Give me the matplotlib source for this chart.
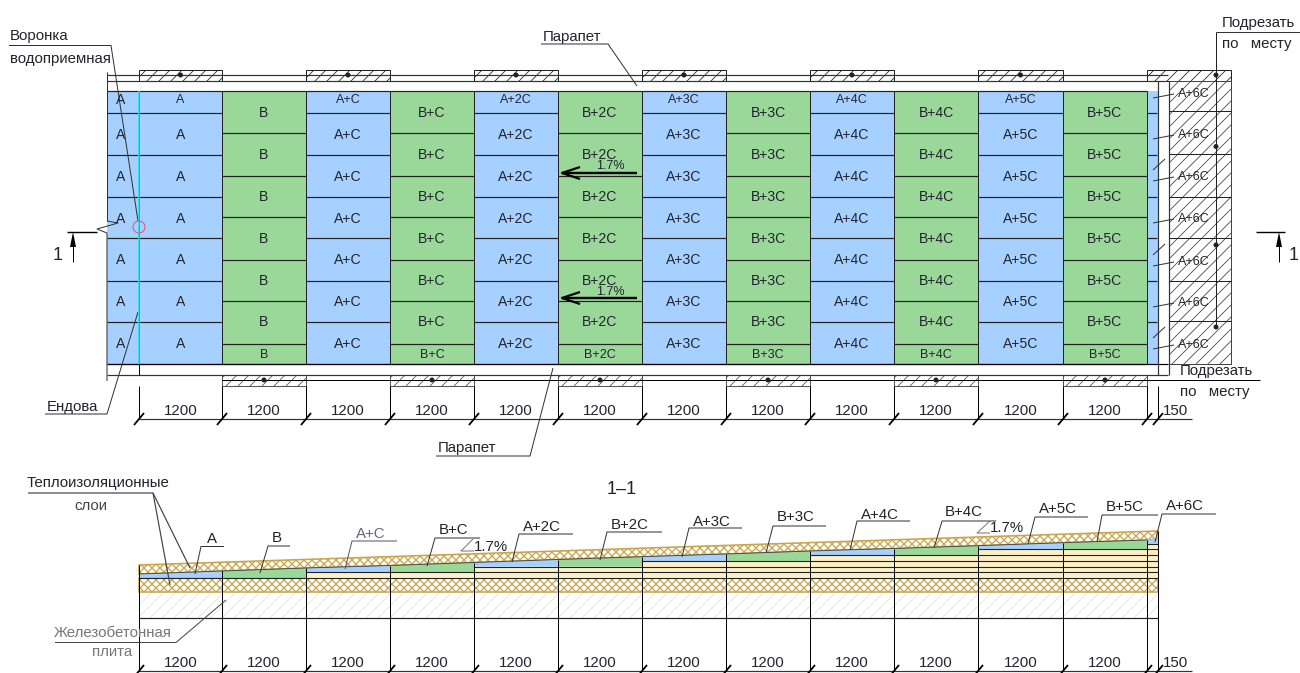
from matplotlib import pyplot as plt
from matplotlib.patches import Polygon, Rectangle, Circle

# everything on this drawing in pixels
col_edges = [139, 222, 306, 390, 474, 558, 642, 726, 810, 894, 978, 1063, 1147]
col_labels = ["A", "B", "A+C", "B+C", "A+2C", "B+2C", "A+3C", "B+3C", "A+4C", "B+4C", "A+5C", "B+5C"]
odd_breaks = [91, 113, 154.5, 197, 238, 280.5, 322, 364]
even_breaks = [91, 133, 175.5, 217, 259.5, 301, 343.5, 364]
odd_text_y = [99, 134, 176, 218, 259, 301, 343]
even_text_y = [112, 154, 196, 238, 280, 321, 354]
side_label_y = [93, 134, 176, 218, 261, 302, 344]
side_breaks = [111, 154, 197, 238, 280.5, 321]
cut_dots_y = [75, 146.5, 245, 327]

wedge_tops = [574, 571, 568, 565.5, 562.5, 559.5, 556.7, 554, 551, 548.5, 545.7, 542.7, 540]
section_floors = [577.5, 577.5, 572.3, 572.3, 566.7, 566.7, 561, 561, 555, 555, 549.3, 549.3]
layer_lines = [572.3, 566.7, 561, 555, 549.3, 544]
layer_starts = [306, 474, 642, 810, 978, 1147]

tag_text_xy = [(212, 538), (277, 537), (371, 533), (453, 529), (542, 526), (630, 524), (712, 521),
               (796, 516), (880, 514), (964, 511), (1058, 508), (1125, 506), (1185, 505)]
tag_lines = [(224, 201, 546.5, 195, 574), (290, 268, 546, 260, 573), (397, 352, 541, 345, 569),
             (480, 435, 538, 427, 566), (573, 519, 534, 512, 562), (662, 607, 532, 600, 560),
             (742, 689, 528, 682, 557), (826, 773, 526, 766, 553), (910, 857, 521, 850, 550),
             (996, 942, 521, 934, 548), (1088, 1035, 517, 1028, 544), (1158, 1102, 515, 1097, 542),
             (1216, 1162, 514, 1155, 542)]
tag_labels = col_labels + ["A+6C"]

BLUE = "#a6d0ff"
GREEN = "#99d898"
CREAM = "#fdf0c8"
GOLD = "#c8a54a"
INK = "#23232e"
DARK = "#333333"

plt.rcParams["font.family"] = ["Liberation Sans", "DejaVu Sans"]
plt.rcParams["hatch.linewidth"] = 0.8

fig = plt.figure(figsize=(1300 / 72, 673 / 72), dpi=72)
ax = fig.add_axes([0, 0, 1, 1])
ax.set_xlim(0, 1300)
ax.set_ylim(673, 0)
ax.axis("off")


def line(xs, ys, color=DARK, lw=1.0, z=3):
    ax.plot(xs, ys, color=color, lw=lw, zorder=z, solid_capstyle="butt")


def label(x, y, s, size=13, color=INK, ha="center"):
    ax.text(x, y + 0.8, s, fontsize=size, color=color, ha=ha, va="center", zorder=5)


def dimension(y, top, text_y):
    line([139, 1192], [y, y], lw=1.2)
    for x in col_edges + [1158]:
        line([x - 5, x + 5], [y + 6, y - 6], color="black", lw=1.8)
        line([x, x], [top, y], color="black")
    for left, right in zip(col_edges[:-1], col_edges[1:]):
        label((left + right) / 2, text_y, "1200", size=15)
    label(1176, text_y, "150", size=15)


# plan: insulation boards
ax.add_patch(Rectangle((107, 91), 115, 273, fc=BLUE, ec="none", zorder=1))
ax.add_patch(Rectangle((1147, 91), 10.5, 273, fc=BLUE, ec="none", zorder=1))
for i, name in enumerate(col_labels):
    left, right = col_edges[i], col_edges[i + 1]
    breaks = odd_breaks if i % 2 == 0 else even_breaks
    text_y = odd_text_y if i % 2 == 0 else even_text_y
    ax.add_patch(Rectangle((left, 91), right - left, 273, fc=BLUE if i % 2 == 0 else GREEN, ec="none", zorder=1))
    line([left, left], [91, 364], color="#222222")
    x0 = 107 if i == 0 else left
    for y in breaks:
        line([x0, right], [y, y], color="#222222", lw=1.2)
    for row, y in enumerate(text_y):
        short = (i % 2 == 0 and row == 0) or (i % 2 == 1 and row == 6)
        label((left + right) / 2, y, name, size=12.5 if short else 14)
        if i == 0:
            label(121, y, "A", size=14)
line([1147, 1147], [91, 364], color="#222222")
for y in odd_breaks[1:-1]:
    line([1147, 1157], [y, y], color="#222222", lw=1.2)
line([139, 139], [91, 364], color="#10e8f0", lw=1.5, z=4)

# plan: parapet and fixing strips
line([107, 1168], [75, 75], lw=1.2)
line([107, 1168], [81, 81], lw=1.2)
line([107, 1168], [364, 364], color="black", lw=1.2)
line([107, 1168], [375, 375], lw=1.2)
line([107, 107], [72, 221])
line([107, 118, 97, 107, 107], [221, 223, 229, 233, 381])
line([1157.5, 1157.5], [81, 375], lw=1.2)
line([1168.5, 1168.5], [81, 375], lw=1.2)
for i in range(0, 12, 2):
    left, right = col_edges[i], col_edges[i + 1]
    ax.add_patch(Rectangle((left, 70), right - left, 11, fc="white", ec="#222222", lw=1, hatch="//", zorder=2))
    ax.add_patch(Circle(((left + right) / 2, 75), 2.5, fc="#222222", ec="none", zorder=4))
for i in range(1, 12, 2):
    left, right = col_edges[i], col_edges[i + 1]
    ax.add_patch(Rectangle((left, 375), right - left, 11, fc="white", ec="#555555", lw=1, hatch="//", zorder=2))
    ax.add_patch(Circle(((left + right) / 2, 380), 2.5, fc="#222222", ec="none", zorder=4))
line([222, 1260], [380, 380], color="black", z=3)
ax.add_patch(Rectangle((1147, 70), 84, 11, fc="white", ec="#222222", lw=1, hatch="//", zorder=2))
ax.add_patch(Rectangle((1168.5, 81), 62.5, 283, fc="white", ec="#444444", lw=1, hatch="//", zorder=2))
for y in side_breaks:
    line([1168.5, 1231], [y, y], color="#222222")
line([1216, 1216], [32, 327], color="#222222")
for y in cut_dots_y:
    ax.add_patch(Circle((1216, y), 2.5, fc="#222222", ec="none", zorder=4))
for y in side_label_y:
    line([1153, 1174], [y + 5, y + 1])
    label(1194, y, "A+6C", size=12.5)
for y in [170, 255, 338]:
    line([1153, 1165], [y, y - 11])

# plan: funnel, slope arrows, section marks
ax.add_patch(Circle((139, 227), 6, fc="none", ec="#e8506e", lw=1, zorder=4))
for y, text_y in [(173, 165), (298, 291)]:
    line([562, 637], [y, y], color="black", lw=2.4, z=4)
    line([580, 562, 580], [y - 6, y, y + 6], color="black", lw=2.2, z=4)
    label(610, text_y, "1.7%", size=12.5)
line([67, 97], [232, 232], color="black", lw=1.4)
line([73, 73], [262, 240], color="black")
ax.add_patch(Polygon([(73, 232), (70, 247), (76, 247)], fc="black", ec="none", zorder=4))
label(58, 255, "1", size=18)
line([1256, 1285], [232, 232], color="black", lw=1.4)
line([1279, 1279], [262, 240], color="black")
ax.add_patch(Polygon([(1279, 232), (1276, 247), (1282, 247)], fc="black", ec="none", zorder=4))
label(1294, 255, "1", size=18)

# plan: callouts
label(10, 35, "Воронка", size=15, ha="left")
label(10, 58, "водоприемная", size=15, ha="left")
line([9, 111, 138], [45.5, 45.5, 221])
label(543, 36, "Парапет", size=15, ha="left")
line([541, 608, 637], [44, 44, 86])
label(438, 447, "Парапет", size=15, ha="left")
line([436, 530, 553], [456, 456, 368])
label(47, 406, "Ендова", size=15, ha="left")
line([45, 107, 138], [414, 414, 312])
label(1222, 22, "Подрезать", size=15, ha="left")
line([1216, 1300], [32, 32])
label(1222, 43, "по   месту", size=15, ha="left")
label(1180, 370, "Подрезать", size=15, ha="left")
label(1180, 391, "по   месту", size=15, ha="left")
dimension(419, 386, 410)
line([139, 139], [364, 375], color="black")

# section 1-1
label(622, 489, "1–1", size=18)
ax.add_patch(Rectangle((139, 592), 1019, 26, fc="white", ec="#e2e2e2", hatch="//", zorder=1, lw=0))
plt.rcParams["hatch.linewidth"] = 1.3
ax.add_patch(Rectangle((139, 578), 1019, 14, fc="white", ec=GOLD, hatch="xxx", lw=1.6, zorder=1))
line([139, 1158], [618, 618], color="#222222", lw=1.2)
ax.add_patch(Polygon(list(zip(col_edges, wedge_tops)) + [(1158, 539), (1158, 531), (139, 565)],
                     fc="white", ec=GOLD, hatch="xxx", lw=1.6, zorder=1))
for i in range(12):
    left, right = col_edges[i], col_edges[i + 1]
    top = wedge_tops[i:i + 2]
    floor = section_floors[i]
    ax.add_patch(Polygon([(left, floor), (left, top[0]), (right, top[1]), (right, floor)],
                         fc=BLUE if i % 2 == 0 else GREEN, ec="none", zorder=2))
    if floor < 577:
        ax.add_patch(Rectangle((left, floor), right - left, 578 - floor, fc=CREAM, ec="none", zorder=2))
ax.add_patch(Polygon([(1147, 544), (1147, 540), (1158, 539), (1158, 544)], fc=BLUE, ec="none", zorder=2))
ax.add_patch(Rectangle((1147, 544), 11, 34, fc=CREAM, ec="none", zorder=2))
for y, start in zip(layer_lines, layer_starts):
    line([start, 1158], [y, y], color="#222222", lw=1.1)
line([139, 1158], [578, 578], color="#222222", lw=1.1)
line(col_edges, wedge_tops, color="#444444", lw=0.9)
dimension(671, 571, 662)
line([139, 139], [565, 671], color="black")
line([1158, 1158], [531, 671], color="black")
for x, top in zip(col_edges[1:], wedge_tops[1:]):
    line([x, x], [top, 671], color="black")

for s, (x, y), (end, start, h, tip_x, tip_y) in zip(tag_labels, tag_text_xy, tag_lines):
    grey = s == "A+C"
    label(x, y, s, size=15, color="#666677" if grey else INK)
    line([end, start, tip_x], [h, h, tip_y], color="#555566" if grey else DARK)

# slope marks
line([473, 461, 474], [539, 551, 551], color="#777777")
label(491, 546, "1.7%", size=15)
line([990, 977, 990], [521, 533, 533], color="#777777")
label(1007, 527, "1.7%", size=15)

# section callouts
label(27, 482, "Теплоизоляционные", size=15, ha="left")
label(91, 505, "слои", size=15, color="#444444")
line([28, 153, 190], [493, 493, 568], color="#444444", lw=1.2)
line([153, 170], [493, 585], color="#444444", lw=1.2)
label(54, 632, "Железобетонная", size=15, color="#777777", ha="left")
label(112, 651, "плита", size=15, color="#777777")
line([55, 176, 226], [642.5, 642.5, 600], color="#444444")

fig.savefig("out.png", dpi=72)
